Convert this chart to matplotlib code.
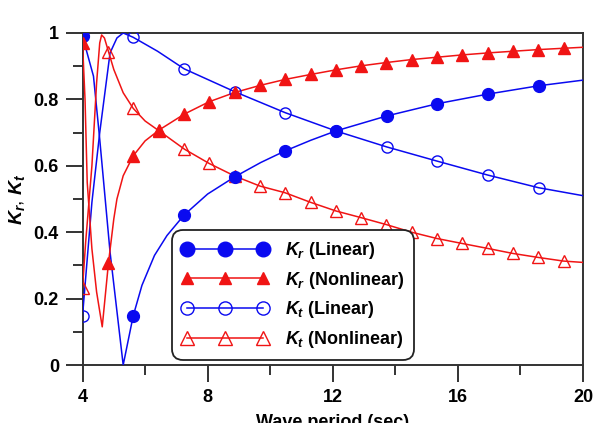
import matplotlib
matplotlib.use("Agg")
import matplotlib.pyplot as plt
from matplotlib.ticker import MultipleLocator

plt.rcParams['font.family'] = ['Liberation Sans', 'DejaVu Sans']
plt.rcParams['font.weight'] = 'bold'
plt.rcParams['mathtext.fontset'] = 'custom'
plt.rcParams['mathtext.it'] = 'Liberation Sans:bold:italic'
plt.rcParams['mathtext.rm'] = 'Liberation Sans:bold'
plt.rcParams['mathtext.bf'] = 'Liberation Sans:bold'

# ---- data ----
# Kr (Linear)
kr_lin_line_x = [4.0, 4.35, 4.55, 4.88, 5.3, 5.62, 5.9, 6.3, 6.7, 7.25, 8.0, 8.87, 9.7, 10.48,
                 11.3, 12.1, 13.72, 15.34, 16.96, 18.58, 20.0]
kr_lin_line_y = [0.99, 0.87, 0.68, 0.34, 0.0, 0.148, 0.24, 0.33, 0.39, 0.452, 0.515, 0.567, 0.61, 0.645,
                 0.677, 0.705, 0.75, 0.787, 0.816, 0.841, 0.858]
kr_lin_mk_x = [4.0, 5.62, 7.25, 8.87, 10.48, 12.1, 13.72, 15.34, 16.96, 18.58]
kr_lin_mk_y = [0.99, 0.148, 0.452, 0.567, 0.645, 0.705, 0.750, 0.787, 0.816, 0.841]

# Kt (Linear)
kt_lin_line_x = [4.0, 4.3, 4.55, 4.88, 5.1, 5.3, 5.62, 6.4, 7.25, 8.87, 10.48, 12.1, 13.72, 15.34,
                 16.96, 18.58, 20.0]
kt_lin_line_y = [0.148, 0.49, 0.70, 0.94, 0.985, 1.0, 0.987, 0.945, 0.892, 0.823, 0.760, 0.705, 0.657,
                 0.614, 0.572, 0.534, 0.510]
kt_lin_mk_x = [4.0, 5.62, 7.25, 8.87, 10.48, 12.1, 13.72, 15.34, 16.96, 18.58]
kt_lin_mk_y = [0.148, 0.987, 0.892, 0.823, 0.760, 0.705, 0.657, 0.614, 0.572, 0.534]

# Kr (Nonlinear)
nl_mk_x = [4.0, 4.83, 5.62, 6.45, 7.26, 8.05, 8.87, 9.67, 10.47, 11.29, 12.1, 12.9, 13.71, 14.52,
           15.33, 16.14, 16.96, 17.76, 18.57, 19.38]
kr_nl_mk_y = [0.969, 0.308, 0.630, 0.708, 0.756, 0.793, 0.821, 0.842, 0.860, 0.875, 0.889, 0.901,
              0.911, 0.920, 0.927, 0.934, 0.940, 0.945, 0.950, 0.954]
kr_nl_line_x = [4.0, 4.08, 4.15, 4.3, 4.45, 4.63, 4.83, 5.0, 5.1, 5.3, 5.62, 6.0, 6.45, 7.26, 8.05,
                8.87, 9.67, 10.47, 11.29, 12.1, 12.9, 13.71, 14.52, 15.33, 16.14, 16.96, 17.76,
                18.57, 19.38, 20.0]
kr_nl_line_y = [0.969, 0.8, 0.55, 0.35, 0.22, 0.115, 0.308, 0.44, 0.50, 0.57, 0.630, 0.675, 0.708,
                0.756, 0.793, 0.821, 0.842, 0.860, 0.875, 0.889, 0.901, 0.911, 0.920, 0.927, 0.934,
                0.940, 0.945, 0.950, 0.954, 0.957]

# Kt (Nonlinear)
kt_nl_mk_y = [0.233, 0.944, 0.773, 0.705, 0.650, 0.607, 0.569, 0.539, 0.519, 0.490, 0.464, 0.444,
              0.423, 0.400, 0.381, 0.366, 0.351, 0.336, 0.324, 0.313]
kt_nl_line_x = [4.0, 4.1, 4.3, 4.45, 4.55, 4.61, 4.7, 4.83, 5.0, 5.3, 5.62, 6.0, 6.45, 7.26, 8.05,
                8.87, 9.67, 10.47, 11.29, 12.1, 12.9, 13.71, 14.52, 15.33, 16.14, 16.96, 17.76,
                18.57, 19.38, 20.0]
kt_nl_line_y = [0.233, 0.37, 0.60, 0.85, 0.97, 0.994, 0.985, 0.944, 0.89, 0.82, 0.773, 0.735, 0.705,
                0.650, 0.607, 0.569, 0.539, 0.519, 0.490, 0.464, 0.444, 0.423, 0.400, 0.381, 0.366,
                0.351, 0.336, 0.324, 0.313, 0.309]

labels = [r'$K_r$ (Linear)', r'$K_r$ (Nonlinear)', r'$K_t$ (Linear)', r'$K_t$ (Nonlinear)']
xticks = [4, 8, 12, 16, 20]
yticks = [0, 0.2, 0.4, 0.6, 0.8, 1.0]
ytick_labels = ['0', '0.2', '0.4', '0.6', '0.8', '1']

BLUE = '#0a0af0'
RED = '#f01414'

fig = plt.figure(figsize=(5.95, 4.23), dpi=100)
ax = fig.add_axes([0.1387, 0.1371, 0.8411, 0.7849])

# lines
ax.plot(kr_lin_line_x, kr_lin_line_y, color=BLUE, lw=1.1, zorder=3)
ax.plot(kt_lin_line_x, kt_lin_line_y, color=BLUE, lw=1.1, zorder=3)
ax.plot(kr_nl_line_x, kr_nl_line_y, color=RED, lw=1.1, zorder=3)
ax.plot(kt_nl_line_x, kt_nl_line_y, color=RED, lw=1.1, zorder=3)

# markers
ax.plot(kr_lin_mk_x, kr_lin_mk_y, ls='none', marker='o', ms=8.5, mfc=BLUE, mec=BLUE, zorder=5)
ax.plot(nl_mk_x, kr_nl_mk_y, ls='none', marker='^', ms=8.5, mfc=RED, mec=RED, zorder=5)
ax.plot(kt_lin_mk_x, kt_lin_mk_y, ls='none', marker='o', ms=8, mfc='none', mec=BLUE, mew=1.0, zorder=4)
ax.plot(nl_mk_x, kt_nl_mk_y, ls='none', marker='^', ms=8.5, mfc='none', mec=RED, mew=1.0, zorder=4)

# legend handles
h1, = ax.plot([], [], color=BLUE, lw=1.1, marker='o', ms=10.5, mfc=BLUE, mec=BLUE)
h2, = ax.plot([], [], color=RED, lw=1.1, marker='^', ms=8, mfc=RED, mec=RED)
h3, = ax.plot([], [], color=BLUE, lw=1.1, marker='o', ms=9.5, mfc='none', mec=BLUE, mew=1.0)
h4, = ax.plot([], [], color=RED, lw=1.1, marker='^', ms=9.5, mfc='none', mec=RED, mew=1.0)
leg = ax.legend([h1, h2, h3, h4], labels, loc='lower left', bbox_to_anchor=(0.179, 0.015),
                borderaxespad=0, numpoints=3, handlelength=4.8, handletextpad=0.9,
                fontsize=13, labelspacing=0.48, borderpad=0.55, fancybox=True,
                framealpha=1, edgecolor='#222222')
leg.get_frame().set_linewidth(1.3)
leg.get_frame().set_boxstyle('round,pad=0,rounding_size=0.6')

ax.set_xlim(4, 20)
ax.set_ylim(0, 1)
ax.set_xticks(xticks)
ax.set_yticks(yticks)
ax.set_yticklabels(ytick_labels)
ax.xaxis.set_minor_locator(MultipleLocator(2))
ax.yaxis.set_minor_locator(MultipleLocator(0.1))
ax.tick_params(which='major', direction='out', length=12, width=1.4, labelsize=13, pad=5,
               color='#333333')
ax.tick_params(which='minor', direction='out', length=7, width=1.4, color='#333333')
for s in ax.spines.values():
    s.set_linewidth(1.4)
    s.set_color('#333333')

ax.set_xlabel('Wave period (sec)', fontsize=13, fontweight='bold', labelpad=6)
ax.set_ylabel(r'$K_r$, $K_t$', fontsize=14, labelpad=5)

fig.savefig('out.png', dpi=100)
